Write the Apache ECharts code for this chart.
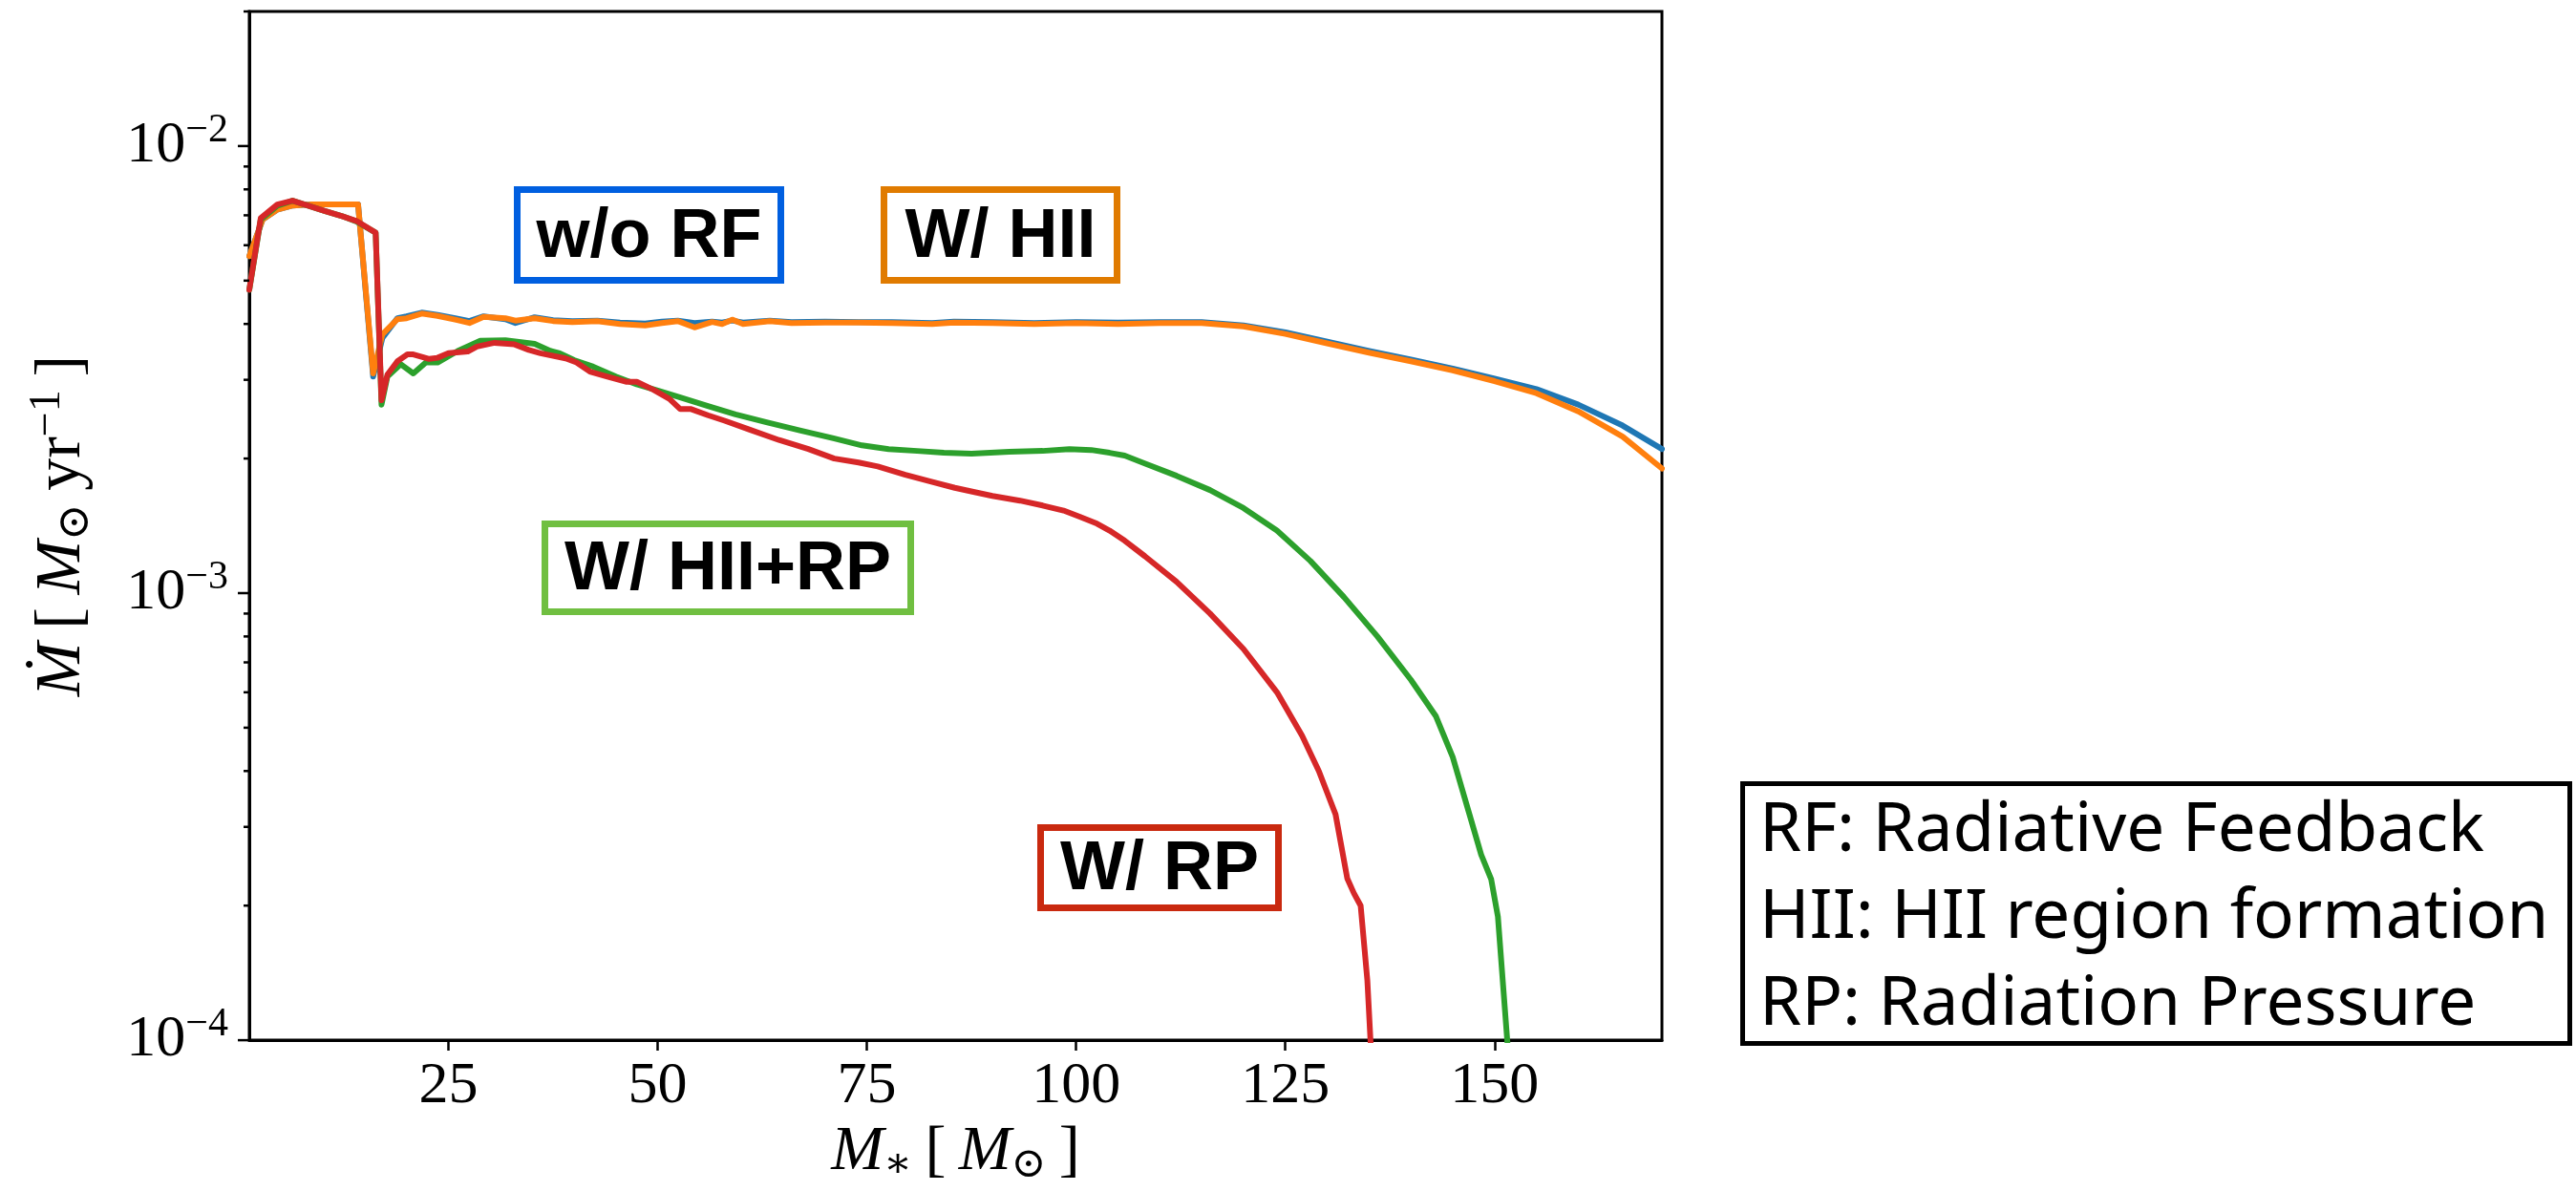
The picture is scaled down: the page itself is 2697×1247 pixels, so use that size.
<!DOCTYPE html>
<html><head><meta charset="utf-8">
<script src="https://cdn.jsdelivr.net/npm/echarts@6/dist/echarts.min.js"></script>
<style>html,body{margin:0;padding:0;background:#fff}#c{width:2697px;height:1247px}</style>
</head><body><div id="c"></div>
<script>
// ---------- data (M_* in Msun, Mdot in Msun/yr) ----------
const xWoRF = [1.2,2.8,4.5,6.4,8.5,10.5,12.5,14.2,16.0,17.1,18.9,20.0,21.8,23.7,25.8,27.5,29.2,31.8,33.0,35.3,37.5,39.8,42.8,45.5,48.5,50.5,52.4,54.4,56.5,57.7,58.9,60.2,63.4,66.0,70,74,78,82.8,85.4,90,95,100,105,110,115,120,125,130,135,140,145,150,155,160,165.3,170];
const yWoRF = [5.67e-3,6.85e-3,7.2e-3,7.36e-3,7.4e-3,7.4e-3,7.4e-3,7.4e-3,3.05e-3,3.72e-3,4.12e-3,4.16e-3,4.24e-3,4.19e-3,4.12e-3,4.06e-3,4.16e-3,4.1e-3,4.02e-3,4.14e-3,4.08e-3,4.06e-3,4.07e-3,4.03e-3,4.01e-3,4.05e-3,4.07e-3,4.02e-3,4.05e-3,4.03e-3,4.07e-3,4.03e-3,4.07e-3,4.04e-3,4.05e-3,4.04e-3,4.04e-3,4.02e-3,4.05e-3,4.04e-3,4.02e-3,4.04e-3,4.03e-3,4.04e-3,4.04e-3,3.97e-3,3.83e-3,3.65e-3,3.48e-3,3.33e-3,3.18e-3,3.02e-3,2.86e-3,2.64e-3,2.37e-3,2.10e-3];
const xHII = [1.2,2.8,4.5,6.4,8.5,10.5,12.5,14.2,16.0,17.1,18.9,20.0,21.8,23.7,25.8,27.5,29.2,31.8,33.0,35.3,37.5,39.8,42.8,45.5,48.5,50.5,52.4,54.4,56.5,57.7,58.9,60.2,63.4,66.0,70,74,78,82.8,85.4,90,95,100,105,110,115,120,125,130,135,140,145,150,155,160,165.3,170];
const yHII = [5.67e-3,6.85e-3,7.2e-3,7.36e-3,7.4e-3,7.4e-3,7.4e-3,7.4e-3,3.1e-3,3.79e-3,4.10e-3,4.12e-3,4.22e-3,4.17e-3,4.09e-3,4.02e-3,4.15e-3,4.12e-3,4.07e-3,4.12e-3,4.06e-3,4.04e-3,4.06e-3,4.0e-3,3.97e-3,4.02e-3,4.06e-3,3.93e-3,4.04e-3,4.0e-3,4.09e-3,4.0e-3,4.06e-3,4.02e-3,4.03e-3,4.03e-3,4.02e-3,4.0e-3,4.03e-3,4.02e-3,4.0e-3,4.02e-3,4.0e-3,4.02e-3,4.02e-3,3.95e-3,3.8e-3,3.62e-3,3.45e-3,3.3e-3,3.15e-3,2.98e-3,2.8e-3,2.55e-3,2.24e-3,1.90e-3];
const xHIIRP = [1.2,2.57,4.55,6.37,10.2,12.3,14.0,16.3,17.0,17.7,19.3,20.8,22.3,23.7,26.1,28.8,31.8,35.3,37.2,38.3,40,42.3,45,47.5,50,52.7,56,59.3,63,67.1,71,74.4,77.6,81,84.2,87.5,92.0,96,99.2,101.8,104,105.8,108.2,112,116,120,124,128,132,136,140,143,145,147,148.4,149.6,150.4,151.7];
const yHIIRP = [4.77e-3,6.85e-3,7.35e-3,7.55e-3,7.16e-3,6.97e-3,6.78e-3,6.4e-3,2.64e-3,3.05e-3,3.25e-3,3.10e-3,3.28e-3,3.28e-3,3.48e-3,3.67e-3,3.68e-3,3.61e-3,3.48e-3,3.44e-3,3.32e-3,3.21e-3,3.05e-3,2.93e-3,2.84e-3,2.74e-3,2.62e-3,2.51e-3,2.41e-3,2.31e-3,2.22e-3,2.14e-3,2.10e-3,2.08e-3,2.06e-3,2.05e-3,2.07e-3,2.08e-3,2.10e-3,2.09e-3,2.06e-3,2.03e-3,1.95e-3,1.83e-3,1.7e-3,1.55e-3,1.38e-3,1.18e-3,9.8e-4,8.0e-4,6.4e-4,5.3e-4,4.3e-4,3.2e-4,2.6e-4,2.29e-4,1.89e-4,9.0e-5];
const xRP = [1.2,2.57,4.55,6.37,10.2,12.3,14.0,16.3,17.0,17.7,18.9,20.1,20.8,22.7,23.7,25.0,27.3,28.4,30.5,32.9,34.6,36.0,39.0,40.3,41.9,44,46.2,47.5,49.5,51.4,52.7,54.0,56,58.0,61,64.5,68,71.1,74,76.3,79.6,82.5,85.5,88,90.0,93.3,96,98.5,100.5,102.5,104,105.8,108.2,112,116,120,124,127,129,131,132.4,133.2,134.0,134.8,135.3];
const yRP = [4.77e-3,6.9e-3,7.4e-3,7.55e-3,7.16e-3,6.97e-3,6.8e-3,6.4e-3,2.70e-3,3.08e-3,3.30e-3,3.42e-3,3.42e-3,3.34e-3,3.36e-3,3.44e-3,3.47e-3,3.56e-3,3.63e-3,3.60e-3,3.50e-3,3.44e-3,3.35e-3,3.28e-3,3.13e-3,3.05e-3,2.97e-3,2.97e-3,2.85e-3,2.72e-3,2.58e-3,2.58e-3,2.50e-3,2.43e-3,2.32e-3,2.20e-3,2.10e-3,2.00e-3,1.96e-3,1.92e-3,1.84e-3,1.78e-3,1.72e-3,1.68e-3,1.65e-3,1.61e-3,1.57e-3,1.53e-3,1.48e-3,1.43e-3,1.38e-3,1.31e-3,1.21e-3,1.06e-3,9.0e-4,7.5e-4,6.0e-4,4.8e-4,4.0e-4,3.2e-4,2.3e-4,2.13e-4,2.0e-4,1.36e-4,9.0e-5];

const xTickValues = [25,50,75,100,125,150];
const yMajorTickValues = [1e-4,1e-3,1e-2];
const yMinorTickValues = [2e-4,3e-4,4e-4,5e-4,6e-4,7e-4,8e-4,9e-4,2e-3,3e-3,4e-3,5e-3,6e-3,7e-3,8e-3,9e-3,2e-2];
const xRange = [1.2, 170];
const yRange = [1e-4, 0.02];

const seriesNames = ['w/o RF','W/ HII','W/ HII+RP','W/ RP'];
const legendLines = ['RF: Radiative Feedback','HII: HII region formation','RP: Radiation Pressure'];

// ---------- chart ----------
const zip = (xs, ys) => xs.map((x, i) => [x, ys[i]]);
const lineColors = ['#1f77b4','#ff7f0e','#2ca02c','#d62728'];
const boxColors = ['#005fe0','#e07b00','#70bf41','#c9290f'];
const SERIF = '"Liberation Serif","DejaVu Serif",serif';
const SANS = '"Liberation Sans","Noto Sans",sans-serif';

function tickSeries(values, len) {
  return {
    type: 'custom', silent: true, clip: false, z: 20,
    data: values.map(v => [xRange[0], v]),
    encode: { x: 0, y: 1 },
    renderItem: (params, api) => {
      const p = api.coord([api.value(0), api.value(1)]);
      return { type: 'line', shape: { x1: p[0] - len, y1: p[1], x2: p[0], y2: p[1] },
               style: { stroke: '#000', lineWidth: 2.5 } };
    }
  };
}

function lineSeries(name, data, color, z) {
  return { name, type: 'line', data, showSymbol: false, symbol: 'none', clip: true, z,
           lineStyle: { color, width: 6, join: 'round', cap: 'round' }, itemStyle: { color } };
}

const boxes = [
  { text: seriesNames[0], x: 538, y: 195, w: 283, h: 102, color: boxColors[0] },
  { text: seriesNames[1], x: 922, y: 195, w: 251, h: 102, color: boxColors[1] },
  { text: seriesNames[2], x: 567, y: 545, w: 390, h: 99,  color: boxColors[2] },
  { text: seriesNames[3], x: 1086, y: 863, w: 256, h: 91, color: boxColors[3] }
];
const graphics = [];
boxes.forEach(b => {
  const lw = 7;
  graphics.push({ type: 'rect', z: 100,
    shape: { x: b.x + lw / 2, y: b.y + lw / 2, width: b.w - lw, height: b.h - lw },
    style: { fill: '#fff', stroke: b.color, lineWidth: lw } });
  graphics.push({ type: 'text', z: 101, x: b.x + b.w / 2, y: b.y + b.h / 2 + 3,
    style: { text: b.text, fill: '#000', font: 'bold 72px ' + SANS,
             textAlign: 'center', textVerticalAlign: 'middle', align: 'center', verticalAlign: 'middle' } });
});
graphics.push({ type: 'rect', z: 100, shape: { x: 1824.5, y: 820.5, width: 866, height: 272 },
  style: { fill: '#fff', stroke: '#000', lineWidth: 5 } });
legendLines.forEach((t, i) => {
  graphics.push({ type: 'text', z: 101, x: 1842, y: 871 + i * 91,
    style: { text: t, fill: '#000', font: '71px "Noto Sans", sans-serif',
             textAlign: 'left', textVerticalAlign: 'middle', align: 'left', verticalAlign: 'middle' } });
});

const chart = echarts.init(document.getElementById('c'), null, { renderer: 'canvas' });
chart.setOption({
  animation: false,
  backgroundColor: '#fff',
  grid: { left: 261, top: 12, right: 957, bottom: 150, show: true, borderColor: '#000', borderWidth: 3, containLabel: false },
  xAxis: {
    type: 'value', min: xRange[0], max: xRange[1],
    name: '{i|M}{sb|∗}{n|\u2009[\u2009}{i|M}{sb|⊙}{n|\u2009]}',
    nameLocation: 'middle', nameGap: 82,
    nameTextStyle: { rich: {
      i: { fontFamily: SERIF, fontStyle: 'italic', fontSize: 66, lineHeight: 70 },
      n: { fontFamily: SERIF, fontSize: 66, lineHeight: 70 },
      sb: { fontFamily: SERIF, fontSize: 44, lineHeight: 44, verticalAlign: 'bottom' } } },
    axisLine: { show: true, lineStyle: { color: '#000', width: 3 } },
    axisTick: { show: true, customValues: xTickValues, length: 11, inside: false, lineStyle: { color: '#000', width: 2.5 } },
    axisLabel: { customValues: xTickValues, fontFamily: SERIF, fontSize: 62, color: '#000', margin: 18 },
    splitLine: { show: false }
  },
  yAxis: {
    type: 'log', logBase: 10, min: yRange[0], max: yRange[1],
    name: '{i|Ṁ}{n|\u2009[\u2009}{i|M}{sb|⊙}{n|\u2009yr}{sp|−1}{n|\u2009]}',
    nameLocation: 'middle', nameGap: 158, nameRotate: 90,
    nameTextStyle: { rich: {
      i: { fontFamily: SERIF, fontStyle: 'italic', fontSize: 68, lineHeight: 76 },
      n: { fontFamily: SERIF, fontSize: 68, lineHeight: 76 },
      sb: { fontFamily: SERIF, fontSize: 46, lineHeight: 46, verticalAlign: 'bottom' },
      sp: { fontFamily: SERIF, fontSize: 46, lineHeight: 46, verticalAlign: 'top' } } },
    axisLine: { show: true, lineStyle: { color: '#000', width: 3 } },
    axisTick: { show: false },
    axisLabel: {
      margin: 22, color: '#000',
      formatter: v => {
        const e = Math.log10(v), r = Math.round(e);
        if (Math.abs(e - r) > 1e-6) return '';
        return '{b|10}{s|−' + (-r) + '}';
      },
      rich: {
        b: { fontFamily: SERIF, fontSize: 62, lineHeight: 74 },
        s: { fontFamily: SERIF, fontSize: 42, lineHeight: 42, verticalAlign: 'top' }
      }
    },
    splitLine: { show: false }, minorTick: { show: false }
  },
  series: [
    lineSeries(seriesNames[0], zip(xWoRF, yWoRF), lineColors[0], 2),
    lineSeries(seriesNames[1], zip(xHII, yHII), lineColors[1], 3),
    lineSeries(seriesNames[2], zip(xHIIRP, yHIIRP), lineColors[2], 4),
    lineSeries(seriesNames[3], zip(xRP, yRP), lineColors[3], 5),
    tickSeries(yMajorTickValues, 12),
    tickSeries(yMinorTickValues, 6)
  ],
  graphic: graphics
});
</script>
</body></html>
